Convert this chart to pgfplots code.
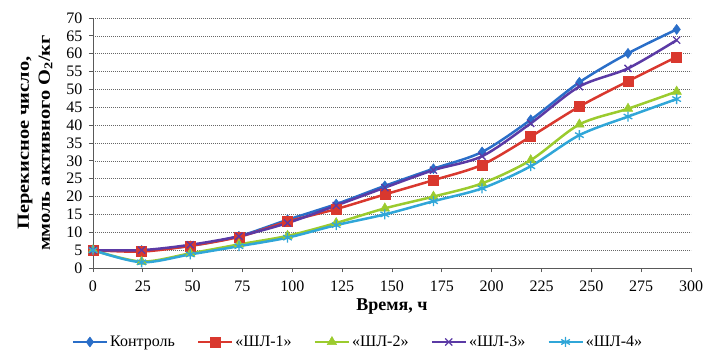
\documentclass[border=0pt]{standalone}
\usepackage{pgfplots}
\pgfplotsset{compat=1.18}
\usepackage{fontspec}
\setmainfont{Liberation Serif}
\definecolor{cBlue}{HTML}{2A6EC8}
\definecolor{cRed}{HTML}{D9382E}
\definecolor{cGreen}{HTML}{9BCB2E}
\definecolor{cPurple}{HTML}{5B3AA5}
\definecolor{cCyan}{HTML}{30A6D8}
\begin{document}
\begin{tikzpicture}
\path[use as bounding box] (-93pt,-88pt) rectangle (612pt,268pt);
\begin{axis}[
  scale only axis,
  width=598pt, height=250pt,
  xmin=0, xmax=300, ymin=0, ymax=70,
  xtick={0,25,...,300}, ytick={0,5,...,70},
  axis x line*=bottom, axis y line*=left,
  axis line style={draw=black!65, line width=0.8pt, -},
  tick style={draw=black!65, line width=0.8pt},
  tick align=outside, major tick length=4pt,
  ymajorgrids, grid style={draw=black!60, dash pattern=on 1.2pt off 0.8pt, line width=0.7pt},
  /pgf/number format/assume math mode=true,
  tick label style={font=\fontsize{16}{16}\selectfont},
  xticklabel style={yshift=-5pt},
  yticklabel style={xshift=-3pt},
  xlabel={\textbf{Время, ч}},
  xlabel style={font=\fontsize{18}{18}\selectfont, at={(axis description cs:0.5,-0.156)}, anchor=center},
  ylabel={\scalebox{1.2}[1]{\textbf{Перекисное число,}}\\\scalebox{1.2}[1]{\textbf{ммоль активного O\textsubscript{2}/кг}}},
  ylabel style={font=\fontsize{17}{21}\selectfont, align=center, at={(axis description cs:-0.097,0.5)}, anchor=center},
  legend columns=5,
  legend style={draw=none, fill=none, at={(axis description cs:0.443,-0.296)}, anchor=center,
    font=\fontsize{16}{16}\selectfont, /tikz/every even column/.append style={column sep=20pt}},
  legend image code/.code={\draw[mark repeat=2,mark phase=2] plot coordinates {(0pt,0pt) (17pt,0pt) (34pt,0pt)};},
  every axis plot/.append style={line width=2.5pt, smooth, tension=0.5},
]
\addplot[color=cBlue, mark=diamond*, mark size=5pt, mark options={line width=0.5pt, fill=cBlue}] coordinates {
(0,5.0) (24.4,4.9) (48.8,6.2) (73.2,8.9) (97.6,13.5) (122,17.9) (146.4,23.0) (170.8,27.8) (195.2,32.5) (219.6,41.5) (244,52.0) (268.4,60.1) (292.8,66.8)};
\addlegendentry{Контроль}
\addplot[color=cRed, mark=square*, mark size=5pt, mark options={line width=0.5pt, fill=cRed}] coordinates {
(0,5.0) (24.4,4.6) (48.8,6.2) (73.2,8.7) (97.6,13.0) (122,16.5) (146.4,20.6) (170.8,24.6) (195.2,28.9) (219.6,36.8) (244,45.2) (268.4,52.3) (292.8,59.1)};
\addlegendentry{«ШЛ-1»}
\addplot[color=cGreen, mark=triangle*, mark size=5.5pt, mark options={line width=0.5pt, fill=cGreen}] coordinates {
(0,5.0) (24.4,1.8) (48.8,4.1) (73.2,6.6) (97.6,9.0) (122,12.6) (146.4,16.7) (170.8,20.0) (195.2,23.7) (219.6,30.2) (244,40.2) (268.4,44.6) (292.8,49.4)};
\addlegendentry{«ШЛ-2»}
\addplot[color=cPurple, mark=x, mark size=5pt, mark options={line width=1.3pt}] coordinates {
(0,5.0) (24.4,5.0) (48.8,6.5) (73.2,8.9) (97.6,12.6) (122,17.5) (146.4,22.5) (170.8,27.4) (195.2,31.3) (219.6,40.5) (244,50.8) (268.4,55.9) (292.8,63.8)};
\addlegendentry{«ШЛ-3»}
\addplot[color=cCyan, mark=asterisk, mark size=5pt, mark options={line width=1.3pt}] coordinates {
(0,5.0) (24.4,1.6) (48.8,3.8) (73.2,6.1) (97.6,8.5) (122,12.0) (146.4,15.0) (170.8,18.7) (195.2,22.3) (219.6,28.5) (244,37.2) (268.4,42.4) (292.8,47.3)};
\addlegendentry{«ШЛ-4»}
\end{axis}
\end{tikzpicture}
\end{document}
